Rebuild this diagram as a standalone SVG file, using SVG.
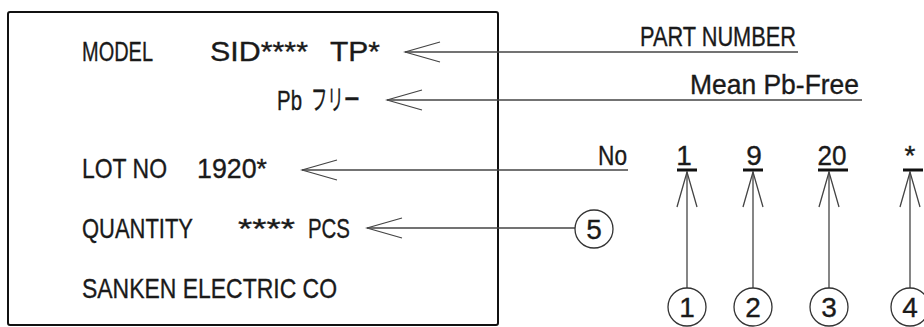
<svg xmlns="http://www.w3.org/2000/svg" width="924" height="327" viewBox="0 0 924 327">
<style>
text{font-family:"Liberation Sans","Noto Sans CJK JP",sans-serif;font-size:28px;fill:#1a1a1a;stroke:#1a1a1a;stroke-width:0.35}
.ln{stroke:#444;stroke-width:1.3;fill:none}
.ar{marker-start:url(#open)}
.bar{stroke:#111;stroke-width:3}
.cir{fill:#fff;stroke:#333;stroke-width:1.3}
.box{fill:#fff;stroke:#111;stroke-width:2}
</style>
<defs>
<marker id="open" markerUnits="userSpaceOnUse" viewBox="-2 -12 40 24" markerWidth="40" markerHeight="24" refX="0" refY="0" orient="auto">
<path d="M35,-10 L0,0 L35,10" fill="none" stroke="#444" stroke-width="1.3"/>
</marker>
</defs>
<rect width="924" height="327" fill="#fff"/>
<g id="label-box">
<rect class="box" x="8" y="12" width="490" height="313" rx="2"/>
<text x="82" y="61" textLength="71" lengthAdjust="spacingAndGlyphs">MODEL</text>
<text x="210" y="61" textLength="98" lengthAdjust="spacingAndGlyphs">SID****</text>
<text x="330" y="61" textLength="50" lengthAdjust="spacingAndGlyphs">TP*</text>
<text x="277" y="110" textLength="25" lengthAdjust="spacingAndGlyphs">Pb</text>
<text x="311" y="110" textLength="49" lengthAdjust="spacingAndGlyphs">フリー</text>
<text x="82" y="178" textLength="85" lengthAdjust="spacingAndGlyphs">LOT NO</text>
<text x="197" y="178" textLength="70" lengthAdjust="spacingAndGlyphs">1920*</text>
<text x="82" y="238" textLength="111" lengthAdjust="spacingAndGlyphs">QUANTITY</text>
<text x="238" y="238" textLength="57" lengthAdjust="spacingAndGlyphs">****</text>
<text x="308" y="238" textLength="42" lengthAdjust="spacingAndGlyphs">PCS</text>
<text x="82" y="298" textLength="255" lengthAdjust="spacingAndGlyphs">SANKEN ELECTRIC CO</text>
</g>
<g id="connectors">
<path class="ln ar" d="M405,52 H798"/>
<path class="ln ar" d="M387,100 H862"/>
<path class="ln ar" d="M302,170 H628"/>
<path class="ln ar" d="M367,228 H575"/>
<path class="ln ar" d="M687,172 V288"/>
<path class="ln ar" d="M753,172 V288"/>
<path class="ln ar" d="M829,172 V288"/>
<path class="ln ar" d="M910,172 V288"/>
</g>
<g id="part-number">
<text x="640" y="46" textLength="156" lengthAdjust="spacingAndGlyphs">PART NUMBER</text>
</g>
<g id="pb-free">
<text x="690" y="94" textLength="169" lengthAdjust="spacingAndGlyphs">Mean Pb-Free</text>
</g>
<g id="lot-no">
<text x="598" y="165" textLength="29" lengthAdjust="spacingAndGlyphs">No</text>
</g>
<g id="digit-1">
<text x="684" y="165" text-anchor="middle">1</text>
<line class="bar" x1="677" y1="170" x2="697" y2="170"/>
<circle class="cir" cx="687" cy="307" r="19"/>
<text x="687" y="317" text-anchor="middle">1</text>
</g>
<g id="digit-2">
<text x="754" y="165" text-anchor="middle">9</text>
<line class="bar" x1="743" y1="170" x2="763" y2="170"/>
<circle class="cir" cx="753" cy="307" r="19"/>
<text x="753" y="317" text-anchor="middle">2</text>
</g>
<g id="digit-3">
<text x="832" y="165" text-anchor="middle" textLength="29" lengthAdjust="spacingAndGlyphs">20</text>
<line class="bar" x1="818" y1="170" x2="848" y2="170"/>
<circle class="cir" cx="829" cy="307" r="19"/>
<text x="829" y="317" text-anchor="middle">3</text>
</g>
<g id="digit-4">
<text x="910" y="165" text-anchor="middle">*</text>
<line class="bar" x1="903" y1="170" x2="923" y2="170"/>
<circle class="cir" cx="910" cy="307" r="19"/>
<text x="910" y="317" text-anchor="middle">4</text>
</g>
<g id="quantity-5">
<circle class="cir" cx="594" cy="229" r="19"/>
<text x="594" y="239" text-anchor="middle">5</text>
</g>
</svg>
